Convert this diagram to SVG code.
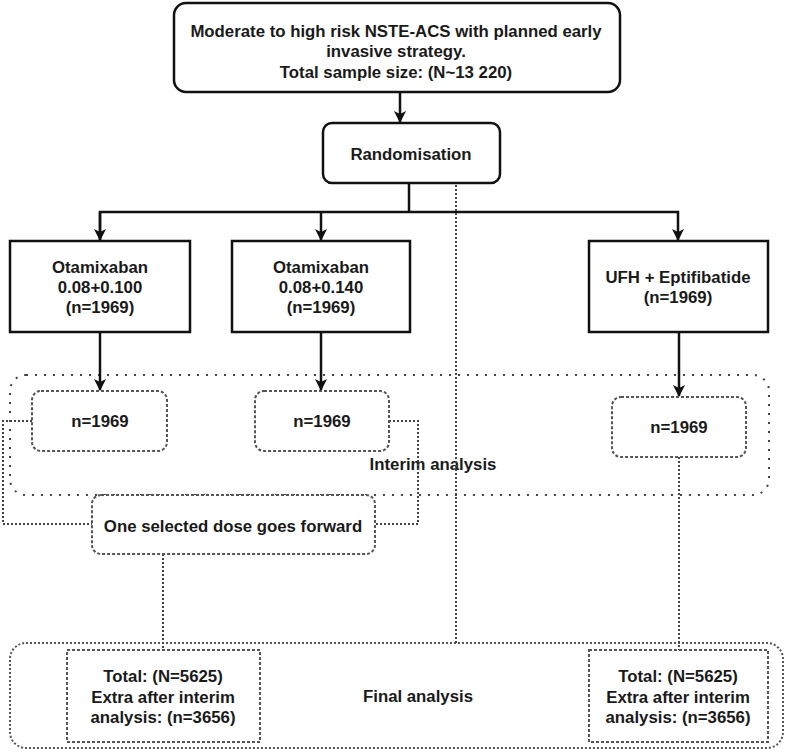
<svg xmlns="http://www.w3.org/2000/svg" width="787" height="752" viewBox="0 0 787 752">
<defs>
<marker id="arr" viewBox="0 0 12 12" refX="11" refY="6" markerWidth="12" markerHeight="12" markerUnits="userSpaceOnUse" orient="auto">
<path d="M0,0 L12,6 L0,12 L3,6 Z" fill="#111"/>
</marker>
</defs>
<style>
text{font-family:"Liberation Sans",Arial,sans-serif;font-size:16.8px;font-weight:bold;fill:#1a1a1a;text-anchor:middle}
.solid{fill:#fff;stroke:#111;stroke-width:2.5}
.dash{fill:#fff;stroke:#555;stroke-width:2;stroke-dasharray:3 2}
.cont{fill:none;stroke:#444;stroke-width:2;stroke-dasharray:2 7}
.fcont{fill:none;stroke:#555;stroke-width:2;stroke-dasharray:2 2}
.ln{fill:none;stroke:#111;stroke-width:2.5}
.dot{fill:none;stroke:#444;stroke-width:2;stroke-dasharray:2 2}
</style>
<g id="interim">
<rect class="cont" x="10" y="375" width="759" height="120" rx="16"/>
<text x="433" y="470">Interim analysis</text>
</g>
<g id="final">
<rect class="fcont" x="10" y="643" width="773" height="105" rx="16"/>
<text x="418" y="702">Final analysis</text>
</g>
<g id="connectors">
<line class="ln" x1="400" y1="92" x2="400" y2="122" marker-end="url(#arr)"/>
<line class="ln" x1="409" y1="183" x2="409" y2="212"/>
<polyline class="ln" points="100,240 100,212 678,212 678,240" marker-end="url(#arr)"/>
<line class="ln" x1="100" y1="212" x2="100" y2="240" marker-end="url(#arr)"/>
<line class="ln" x1="321" y1="212" x2="321" y2="240" marker-end="url(#arr)"/>
<line class="ln" x1="100" y1="332" x2="100" y2="390" marker-end="url(#arr)"/>
<line class="ln" x1="321" y1="332" x2="321" y2="390" marker-end="url(#arr)"/>
<line class="ln" x1="679" y1="332" x2="679" y2="396" marker-end="url(#arr)"/>
<polyline class="dot" points="32,421 3,421 3,524 92,524"/>
<polyline class="dot" points="389,421 418,421 418,524 375,524"/>
<line class="dot" x1="163" y1="554" x2="163" y2="650"/>
<line class="dot" x1="456" y1="185" x2="456" y2="643"/>
<line class="dot" x1="679" y1="457" x2="679" y2="650"/>
</g>
<g id="top">
<rect class="solid" x="174" y="3" width="446" height="89" rx="12"/>
<text x="396" y="37">Moderate to high risk NSTE-ACS with planned early</text>
<text x="396" y="57">invasive strategy.</text>
<text x="396" y="78">Total sample size: (N~13 220)</text>
</g>
<g id="randomisation">
<rect class="solid" x="323" y="123" width="177" height="60" rx="9"/>
<text x="411" y="160">Randomisation</text>
</g>
<g id="arm1">
<rect class="solid" x="10" y="241" width="180" height="91"/>
<text x="100" y="273">Otamixaban</text>
<text x="100" y="293">0.08+0.100</text>
<text x="100" y="313">(n=1969)</text>
</g>
<g id="arm2">
<rect class="solid" x="232" y="241" width="178" height="91"/>
<text x="321" y="273">Otamixaban</text>
<text x="321" y="293">0.08+0.140</text>
<text x="321" y="313">(n=1969)</text>
</g>
<g id="arm3">
<rect class="solid" x="589" y="241" width="179" height="91"/>
<text x="678" y="283">UFH + Eptifibatide</text>
<text x="678" y="303">(n=1969)</text>
</g>
<g id="n1">
<rect class="dash" x="32" y="391" width="135" height="60" rx="9"/>
<text x="100" y="427">n=1969</text>
</g>
<g id="n2">
<rect class="dash" x="255" y="391" width="134" height="60" rx="9"/>
<text x="322" y="427">n=1969</text>
</g>
<g id="n3">
<rect class="dash" x="612" y="397" width="134" height="60" rx="9"/>
<text x="679" y="433">n=1969</text>
</g>
<g id="selected">
<rect class="dash" x="92" y="495" width="283" height="59" rx="9"/>
<text x="233" y="532">One selected dose goes forward</text>
</g>
<g id="final1">
<rect class="dash" x="67" y="650" width="193" height="92"/>
<text x="163" y="682">Total: (N=5625)</text>
<text x="163" y="703">Extra after interim</text>
<text x="163" y="723">analysis: (n=3656)</text>
</g>
<g id="final2">
<rect class="dash" x="589" y="650" width="179" height="92"/>
<text x="678" y="682">Total: (N=5625)</text>
<text x="678" y="703">Extra after interim</text>
<text x="678" y="723">analysis: (n=3656)</text>
</g>
</svg>
